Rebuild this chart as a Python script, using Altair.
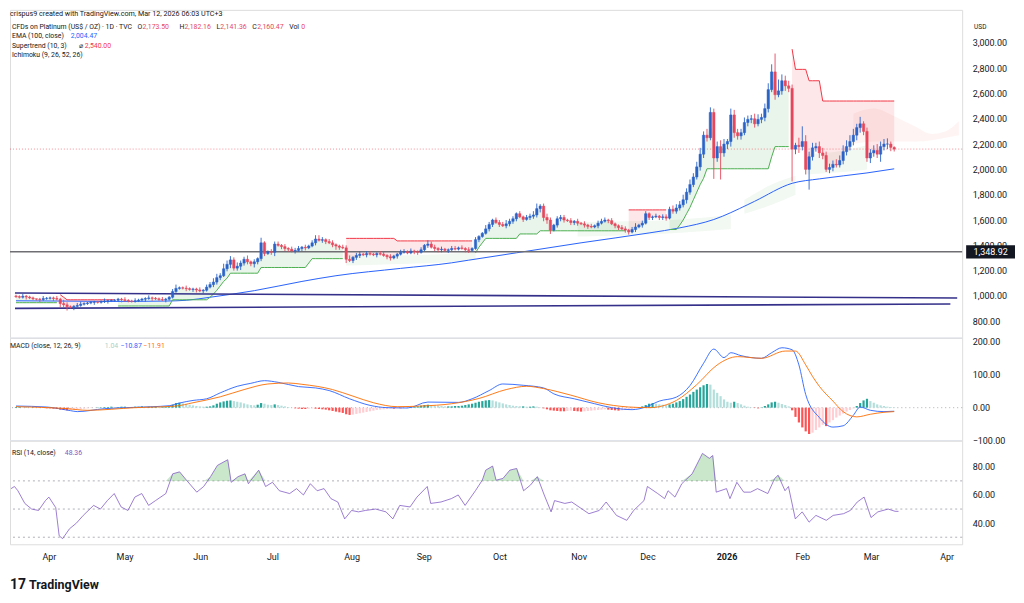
import altair as alt
import pandas as pd

FONT = "Roboto"
INK = "#131722"
BULL = "#2b63c8"
BEAR = "#e5485d"
ST_UP = "#4caf50"
ST_DN = "#f23645"
BLUE = "#2962ff"
ORANGE = "#ff6d00"
PURPLE = "#7e57c2"
NAVY = "#35318a"
GREY = "#787b86"

W = 955
H_PRICE, H_MACD, H_RSI = 329, 103, 104
X_DOMAIN = [-0.3, 276.5]
P_DOMAIN = [669, 3260]
M_DOMAIN = [-100, 212]
R_DOMAIN = [25, 98.6]

# ------------------------------------------------------------------ data
calendar = pd.bdate_range("2025-03-17", "2026-04-10")

# daily closes (one per session, Mar 17 2025 -> Mar 12 2026)
closes = [
    995, 990, 998, 992, 985,
    978, 975, 972, 980, 982,
    985, 980, 975, 940, 930,
    915, 908, 918, 925, 935,
    940, 945, 950, 952, 950,
    955, 960, 962, 965, 966,
    975, 970, 965, 960, 958,
    962, 968, 975, 980, 985,
    982, 978, 972, 970, 975,
    990, 1035, 1060, 1065, 1062,
    1058, 1052, 1055, 1048, 1040,
    1045, 1070, 1090, 1110, 1145,
    1160, 1215, 1250, 1285, 1220,
    1235, 1260, 1290, 1270, 1255,
    1270, 1295, 1420, 1335, 1350,
    1345, 1410, 1400, 1390, 1375,
    1370, 1355, 1360, 1375, 1385,
    1380, 1395, 1420, 1450, 1440,
    1445, 1430, 1420, 1405, 1395,
    1385, 1380, 1290, 1280, 1305,
    1320, 1330, 1325, 1335, 1330,
    1325, 1335, 1330, 1320, 1310,
    1300, 1315, 1330, 1345, 1350,
    1340, 1355, 1350, 1345, 1365,
    1400, 1410, 1385, 1375, 1365,
    1370, 1360, 1365, 1375, 1370,
    1380, 1375, 1365, 1360, 1375,
    1445, 1470, 1495, 1530, 1565,
    1600, 1580, 1565, 1555, 1570,
    1590, 1610, 1650, 1625, 1605,
    1620, 1630, 1640, 1690, 1710,
    1620, 1600, 1520, 1560, 1610,
    1620, 1600, 1595, 1580, 1590,
    1575, 1570, 1560, 1550, 1545,
    1555, 1575, 1590, 1600, 1595,
    1570, 1555, 1540, 1530, 1520,
    1505, 1525, 1545, 1560, 1575,
    1650, 1620, 1625, 1630, 1620,
    1625, 1615, 1685, 1670, 1695,
    1720, 1760, 1820, 1880, 1940,
    2020, 2120, 2270, 2250, 2450,
    2090, 2180, 2130, 2200, 2220,
    2430, 2290, 2265, 2290, 2370,
    2395, 2400, 2360, 2395, 2410,
    2480, 2630, 2770, 2590, 2620,
    2700, 2660, 2640, 2160, 2190,
    2180, 2220, 2000, 2100, 2170,
    2180, 2130, 2110, 2000, 2015,
    2040, 2035, 2070, 2140, 2180,
    2220, 2270, 2330, 2360, 2300,
    2090, 2130, 2150, 2120, 2180,
    2200, 2200, 2173.50, 2160.47,
]
first_open = 1000

# wick lengths beyond the body, in 10 USD steps, one digit per session
upper_wick = ("11211 10121 11213 21122 11111 12111 11211 21112 11121 12311 21112 "
              "12233 24332 32231 21431 22212 12221 21233 21221 12231 22122 "
              "11221 21122 12112 13221 21122 12121 21132 12223 22121 22342 "
              "23212 22121 21212 12221 21122 12312 21121 22233 34343 45354 "
              "34542 54334 33443 45689 54432 63544 34433 34455 55342 33454 4423").replace(" ", "")
lower_wick = ("11121 11211 12132 32211 11121 11211 12111 11121 21112 11111 21221 "
              "21122 21232 23222 32221 23122 21212 21121 22123 21342 22121 "
              "12112 21211 11221 12122 21211 11221 12112 21212 22212 12223 "
              "33212 22122 21221 12112 12212 21212 12212 22122 22322 23332 "
              "43334 44332 33323 33242 34334 53433 34323 32233 33443 34334 3432").replace(" ", "")
# sessions with a notable high / low
wick_fix = {16: (None, 903), 73: (1432, None), 98: (None, 1268), 154: (1725, None),
            157: (None, 1490), 205: (None, 1925), 207: (None, 1920), 223: (2915, None),
            228: (None, 1905), 231: (2340, None), 233: (None, 1840), 248: (2415, None),
            254: (None, 2060), 256: (2245, None), 258: (2182.16, 2141.36)}

# Supertrend (10, 3): (first session, last session, level, direction)
st_segments = [
    (0, 12, 947, "up"),
    (13, 13, 1010, "down"), (14, 14, 990, "down"), (15, 29, 970, "down"),
    (30, 45, 921, "up"), (46, 56, 970, "up"), (57, 57, 990, "up"), (58, 58, 1015, "up"),
    (59, 59, 1045, "up"), (60, 60, 1080, "up"), (61, 61, 1115, "up"), (62, 62, 1140, "up"),
    (63, 71, 1180, "up"), (72, 85, 1225, "up"), (86, 86, 1260, "up"), (87, 96, 1295, "up"),
    (97, 111, 1455, "down"), (112, 134, 1435, "down"),
    (135, 135, 1340, "up"), (136, 136, 1385, "up"), (137, 137, 1420, "up"),
    (138, 147, 1455, "up"), (148, 153, 1490, "up"), (154, 179, 1515, "up"),
    (180, 191, 1680, "down"),
    (192, 194, 1525, "up"), (195, 195, 1560, "up"), (196, 196, 1600, "up"), (197, 197, 1650, "up"),
    (198, 198, 1700, "up"), (199, 199, 1760, "up"), (200, 200, 1820, "up"), (201, 201, 1880, "up"),
    (202, 202, 1930, "up"), (203, 221, 2005, "up"), (222, 222, 2100, "up"), (223, 227, 2180, "up"),
    (228, 228, 2950, "down"), (229, 232, 2790, "down"), (233, 236, 2700, "down"), (237, 258, 2540, "down"),
]

# EMA (100, close)
ema_bar = [0, 14, 28, 44, 50, 57, 70, 84, 94, 113, 128, 133, 147, 166, 186, 195, 205, 215, 217, 228, 236, 250, 258]
ema_val = [962, 960, 957, 960, 966, 990, 1042, 1115, 1160, 1218, 1262, 1283, 1341, 1420, 1498, 1538,
           1604, 1722, 1748, 1890, 1925, 1972, 2004.47]

# Ichimoku cloud (span A / span B), read from the shading
cloud_run = ["c1"] * 4 + ["c2"] * 4 + ["c3"] * 3 + ["c4"] * 3 + ["c5"] * 7
cloud_bar = [97, 110, 125, 135, 165, 180, 195, 210, 214, 222, 229, 232, 241, 250,
             246, 252, 258, 264, 269, 273, 277]
cloud_a = [1330, 1320, 1330, 1345, 1585, 1590, 1605, 1640, 1760, 1880, 1950, 2120, 2140, 2190,
           2440, 2480, 2420, 2340, 2280, 2300, 2380]
cloud_b = [1240, 1250, 1265, 1285, 1470, 1480, 1500, 1530, 1650, 1720, 1800, 1960, 1975, 2000,
           2200, 2220, 2220, 2220, 2230, 2250, 2270]
cloud_dir = ["up"] * 14 + ["down"] * 7

# hand-drawn lines
trend_name = ["upper", "upper", "lower", "lower"]
trend_bar = [-0.3, 276.5, -0.3, 274.5]
trend_val = [1024, 984, 902, 937]
level_price = 1348.92

# MACD (12, 26, 9)
macd_bar = [0, 9, 16, 18, 26, 35, 45, 48, 52, 56, 60, 65, 69, 73, 77, 83, 88, 92, 98, 104,
            109, 115, 121, 130, 134, 139, 143, 149, 155, 158, 164, 170, 175, 181, 185, 189, 194, 198, 202, 205,
            208, 210, 213, 219, 222, 225, 228, 230, 232, 236, 240, 243, 246, 248, 251, 255, 258]
macd_val = [5, 2, -9, -12, -3, 1, 6, 14, 22, 27, 45, 65, 74, 82, 77, 64, 60, 52, 27, 7,
            0, -1, 17, 16, 27, 52, 72, 68, 60, 42, 27, 12, 0, -6, 2, 20, 32, 67, 135, 178,
            152, 167, 158, 150, 167, 182, 176, 130, 40, -30, -59, -55, -23, 2, -8, -12, -10.87]
sig_bar = [0, 15, 21, 35, 47, 52, 60, 67, 74, 80, 84, 93, 99, 105, 112, 119, 128, 136, 144, 150,
           155, 163, 171, 180, 186, 194, 200, 206, 212, 219, 226, 229, 232, 234, 236, 240, 243, 247, 251, 255, 258]
sig_val = [3, -3, -8, 0, 5, 15, 33, 55, 72, 75, 71, 55, 35, 15, 3, 5, 12, 28, 55, 65,
           58, 38, 15, 2, 0, 22, 70, 130, 155, 150, 172, 172, 130, 95, 65, 20, -12, -28, -20, -14, -11.91]
hist = [
    2, 2, 1, 1, 0, 1, 0, -1, -1, -2,
    -2, -3, -4, -6, -7, -8, -7, -6, -5, -4,
    -3, -2, -1, 0, 1, 1, 2, 2, 3, 2,
    2, 3, 3, 2, 2, 3, 3, 4, 3, 3,
    3, 3, 2, 2, 3, 4, 9, 14, 15, 13,
    11, 9, 7, 5, 4, 3, 3, 4, 7, 12,
    16, 19, 21, 22, 20, 18, 16, 13, 10, 8,
    7, 9, 14, 12, 9, 8, 10, 8, 6, 4,
    2, 0, -2, -3, -4, -4, -3, -2, -3, -4,
    -5, -6, -8, -10, -12, -14, -16, -20, -22, -21,
    -19, -17, -15, -13, -11, -9, -7, -6, -5, -4,
    -3, -3, -2, -2, -1, 0, 1, 2, 4, 6,
    8, 9, 8, 7, 6, 5, 4, 4, 4, 5,
    5, 6, 8, 10, 12, 15, 18, 20, 22, 23,
    22, 19, 16, 13, 10, 8, 6, 5, 4, 4,
    3, 3, 4, 3, 1, -2, -5, -8, -9, -10,
    -11, -11, -10, -9, -10, -11, -12, -11, -10, -9,
    -8, -7, -6, -5, -6, -7, -8, -9, -8, -7,
    -6, -4, -2, 1, 4, 8, 12, 14, 12, 10,
    9, 8, 10, 12, 16, 20, 26, 33, 40, 48,
    55, 62, 68, 72, 70, 55, 45, 35, 25, 18,
    15, 18, 14, 10, 6, 3, 1, -1, -2, 1,
    5, 10, 16, 18, 15, 11, 8, 4, -8, -28,
    -45, -60, -72, -80, -76, -68, -60, -52, -56, -45,
    -38, -30, -24, -18, -12, -7, -2, 5, 14, 22,
    27, 20, 15, 10, 7, 5, 3, 2, 1.04,
]

# RSI (14, close)
rsi_bar = [0, 1, 2, 4, 6, 8, 10, 11, 13, 14, 15, 17, 19, 21, 24, 26, 28, 30, 32, 34, 36, 38, 40, 42, 45,
           47, 49, 51, 54, 56, 58, 60, 63, 64, 66, 68, 69, 72, 74, 76, 78, 81, 83, 85, 87, 89, 91, 93, 95,
           97, 99, 101, 103, 106, 109, 111, 113, 116, 118, 121, 122, 125, 128, 130, 132, 135, 137, 138, 140,
           141, 143, 145, 147, 149, 151, 153, 155, 157, 158, 161, 163, 166, 168, 171, 173, 176, 179, 181, 184,
           185, 188, 190, 191, 193, 195, 198, 201, 203, 204, 205, 208, 209, 211, 213, 215, 217, 220, 222, 223,
           225, 226, 228, 230, 232, 234, 237, 239, 242, 244, 246, 248, 250, 252, 255, 257, 258]
rsi_val = [64.5, 66, 63, 54, 50, 49, 56, 58.5, 51, 31, 29, 36, 40, 45.5, 52.6, 50, 56, 61, 51.5, 49, 58.5,
           61, 52.6, 56, 61, 75, 76.4, 70.5, 62, 66, 73, 81, 85, 69, 73, 75, 68, 77.6, 66, 69, 63, 61, 64.5,
           60, 68, 63, 64.5, 57.4, 55, 43, 49, 48, 49, 50, 48, 43, 52.6, 51.5, 58.5, 66, 54, 55, 57.4, 60,
           52.6, 63, 70.5, 77.6, 80.5, 70.5, 71.7, 77.6, 78.8, 63, 67, 73, 60, 48, 56, 54, 55, 50, 46.7, 49,
           55, 45.5, 42, 49, 56, 66, 61, 57.4, 63, 58.5, 68, 75, 89.5, 86, 88, 62, 64.5, 57.4, 69, 62, 62,
           64.5, 61, 71.7, 74, 63, 66, 43, 48, 40.7, 45.5, 42, 45.5, 46.7, 49, 55, 58.5, 44, 48, 50, 48.4, 48.36]
rsi_levels = [70, 50, 30]

# ------------------------------------------------------------------ frames
N = len(closes)
opens = [first_open] + closes[:-1]
highs, lows = [], []
for i, (o, c) in enumerate(zip(opens, closes)):
    hi = max(o, c) + 10 * int(upper_wick[i])
    lo = min(o, c) - 10 * int(lower_wick[i])
    if i in wick_fix:
        fh, fl = wick_fix[i]
        hi = fh if fh is not None else hi
        lo = fl if fl is not None else lo
    highs.append(hi)
    lows.append(lo)

st = [None] * N
dirs = [None] * N
for a, b, lvl, d in st_segments:
    for k in range(a, b + 1):
        st[k] = lvl
        dirs[k] = d
runs, r = [], 0
for k in range(N):
    if k > 0 and dirs[k] != dirs[k - 1]:
        r += 1
    runs.append(r)

hcol, prev = [], 0
for h in hist:
    if h >= 0:
        hcol.append("g_up" if h >= prev else "g_dn")
    else:
        hcol.append("r_dn" if h <= prev else "r_up")
    prev = h

bars = pd.DataFrame(dict(i=list(range(N)), open=opens, close=closes, high=highs, low=lows,
                         mid=[(o + c) / 2 for o, c in zip(opens, closes)], st=st, dir=dirs, run=runs,
                         hist=hist, hc=hcol))
ema_df = pd.DataFrame(dict(i=ema_bar, v=ema_val))
cloud_df = pd.DataFrame(dict(i=cloud_bar, a=cloud_a, b=cloud_b, run=cloud_run, dir=cloud_dir))
trend_df = pd.DataFrame(dict(i=trend_bar, v=trend_val, line=trend_name))
level_df = pd.DataFrame(dict(v=[level_price], top=[level_price + 52], bot=[level_price - 52]))
last_df = pd.DataFrame(dict(v=[closes[-1]]))
macd_df = pd.DataFrame(dict(i=macd_bar, v=macd_val))
sig_df = pd.DataFrame(dict(i=sig_bar, v=sig_val))
rsi_df = pd.DataFrame(dict(i=rsi_bar, v=rsi_val))
lvl_df = pd.DataFrame(dict(v=rsi_levels))
zero_df = pd.DataFrame(dict(v=[0]))
one = pd.DataFrame(dict(k=[0]))

# month ticks on the session axis
ticks, names = [], []
for m in pd.period_range("2025-04", "2026-04", freq="M"):
    first = calendar[calendar.to_period("M") == m][0]
    ticks.append(int(calendar.get_loc(first)))
    names.append("2026" if m.month == 1 else first.strftime("%b"))
label_expr = " : ".join(f"datum.value == {t} ? '{n}'" for t, n in zip(ticks, names)) + " : ''"
year_tick = ticks[names.index("2026")]

# ------------------------------------------------------------------ helpers
xs = alt.Scale(domain=X_DOMAIN, nice=False, zero=False)


def X(axis=None):
    return alt.X("i:Q", scale=xs, axis=axis)


def yaxis(values, fmt=",.2f"):
    return alt.Axis(orient="right", values=values, format=fmt, labelAlign="left", labelPadding=10,
                    ticks=False, domain=False, grid=False, title=None, labelFontSize=9,
                    labelColor=INK, labelFont=FONT)


P_AXIS = yaxis(list(range(800, 3001, 200)))
M_AXIS = yaxis([-100, 0, 100, 200])
R_AXIS = yaxis([40, 60, 80])


def PY(f):
    return alt.Y(f"{f}:Q", scale=alt.Scale(domain=P_DOMAIN, nice=False, zero=False), axis=P_AXIS)


def MY(f):
    return alt.Y(f"{f}:Q", scale=alt.Scale(domain=M_DOMAIN, nice=False, zero=False), axis=M_AXIS)


def RY(f):
    return alt.Y(f"{f}:Q", scale=alt.Scale(domain=R_DOMAIN, nice=False, zero=False), axis=R_AXIS)


def label(text, x, y, color=INK, size=6.9, weight="normal"):
    return alt.Chart(one).mark_text(text=text, align="left", baseline="middle", fontSize=size,
                                    font=FONT, color=color, fontWeight=weight).encode(
        x=alt.value(x), y=alt.value(y))


def separator():
    return alt.Chart(one).mark_rule(color="#e0e3eb", strokeWidth=1).encode(
        y=alt.value(0), x=alt.value(0), x2=alt.value(W))


candle_color = alt.condition("datum.close >= datum.open", alt.value(BULL), alt.value(BEAR))
base = alt.Chart(bars)

# ------------------------------------------------------------------ price pane
price_layers = [
    alt.Chart(cloud_df).transform_filter("datum.dir == 'up'").mark_area(
        color="#43a047", opacity=0.07, interpolate="monotone").encode(X(), PY("a"), alt.Y2("b:Q"), detail="run:N"),
    alt.Chart(cloud_df).transform_filter("datum.dir == 'down'").mark_area(
        color="#f44336", opacity=0.06, interpolate="monotone").encode(X(), PY("a"), alt.Y2("b:Q"), detail="run:N"),
    base.transform_filter("datum.dir == 'up'").mark_area(color=ST_UP, opacity=0.12).encode(
        X(), PY("st"), alt.Y2("mid:Q"), detail="run:N"),
    base.transform_filter("datum.dir == 'down'").mark_area(color=ST_DN, opacity=0.12).encode(
        X(), PY("st"), alt.Y2("mid:Q"), detail="run:N"),
    alt.Chart(ema_df).mark_line(color=BLUE, strokeWidth=1, interpolate="monotone").encode(X(), PY("v")),
    base.transform_filter("datum.dir == 'up'").mark_line(color=ST_UP, strokeWidth=1).encode(
        X(), PY("st"), detail="run:N"),
    base.transform_filter("datum.dir == 'down'").mark_line(color=ST_DN, strokeWidth=1).encode(
        X(), PY("st"), detail="run:N"),
    alt.Chart(trend_df).mark_line(color=NAVY, strokeWidth=1.6).encode(X(), PY("v"), detail="line:N"),
    alt.Chart(level_df).mark_rule(color="#6e6e73", strokeWidth=1.5).encode(y=PY("v")),
    alt.Chart(last_df).mark_rule(color=ST_DN, strokeDash=[1, 2], opacity=0.7, strokeWidth=0.8).encode(y=PY("v")),
    base.mark_rule(strokeWidth=0.9).encode(X(), PY("low"), alt.Y2("high:Q"), color=candle_color),
    base.mark_bar(width=2.4, strokeWidth=0.5).encode(X(), PY("open"), alt.Y2("close:Q"),
                                                      color=candle_color, stroke=candle_color),
    alt.Chart(level_df).mark_rect(color="#131722").encode(
        x=alt.value(W + 4), x2=alt.value(W + 53), y=PY("top"), y2="bot:Q"),
    alt.Chart(level_df).mark_text(color="white", fontSize=9, font=FONT, align="center",
                                  baseline="middle").encode(
        x=alt.value(W + 28.5), y=PY("v"), text=alt.Text("v:Q", format=",.2f")),
    label("crispus9 created with TradingView.com, Mar 12, 2026 06:03 UTC+3", 0, 4, INK, 7.2),
    label("CFDs on Platinum (US$ / OZ) \u00b7 1D \u00b7 TVC", 2, 17),
    label("O", 128, 17), label("2,173.50", 133, 17, BEAR),
    label("H", 170, 17), label("2,182.16", 175, 17, BEAR),
    label("L", 207, 17), label("2,141.36", 211, 17, BEAR),
    label("C", 243, 17), label("2,160.47", 248, 17, BEAR),
    label("Vol", 280, 17), label("0", 292, 17, BEAR),
    label("EMA (100, close)", 2, 26), label("2,004.47", 61, 26, BLUE),
    label("Supertrend (10, 3)", 2, 36), label("\u2300", 69, 36), label("2,540.00", 75, 36, ST_DN),
    label("Ichimoku (9, 26, 52, 26)", 2, 45),
    label("USD", W + 12, 17, INK, 6.5),
]
price = alt.layer(*price_layers).properties(width=W, height=H_PRICE)

# ------------------------------------------------------------------ MACD pane
macd_layers = [
    separator(),
    alt.Chart(zero_df).mark_rule(color=GREY, strokeDash=[1, 3], opacity=0.6).encode(y=MY("v")),
    base.mark_bar(width=2.2).encode(
        X(), MY("hist"), alt.Y2(datum=0),
        color=alt.Color("hc:N", legend=None, scale=alt.Scale(
            domain=["g_up", "g_dn", "r_dn", "r_up"],
            range=["#26a69a", "#b2dfdb", "#ff5252", "#ffcdd2"]))),
    alt.Chart(macd_df).mark_line(color=BLUE, strokeWidth=0.9, interpolate="monotone").encode(X(), MY("v")),
    alt.Chart(sig_df).mark_line(color=ORANGE, strokeWidth=0.9, interpolate="monotone").encode(X(), MY("v")),
    label("MACD (close, 12, 26, 9)", 0, 8),
    label("1.04", 95, 8, "#9fd3cc"),
    label("\u221210.87", 111, 8, BLUE),
    label("\u221211.91", 134, 8, ORANGE),
]
macd = alt.layer(*macd_layers).properties(width=W, height=H_MACD)

# ------------------------------------------------------------------ RSI pane
x_axis = alt.Axis(values=ticks, labelExpr=label_expr, ticks=False, domain=False, grid=False,
                  labelPadding=8, title=None, labelOverlap=False, labelFontSize=9, labelColor=INK,
                  labelFont=FONT,
                  labelFontWeight={"condition": {"test": f"datum.value == {year_tick}", "value": "bold"},
                                   "value": "normal"})
rsi_layers = [
    separator(),
    alt.Chart(lvl_df).mark_rule(color=GREY, strokeDash=[2, 3], opacity=0.6).encode(y=RY("v")),
    alt.Chart(rsi_df).transform_calculate(ob="max(datum.v, 70)").mark_area(
        color="#66bb6a", opacity=0.35).encode(X(x_axis), RY("ob"), alt.Y2(datum=70)),
    alt.Chart(rsi_df).mark_line(color=PURPLE, strokeWidth=0.9, opacity=0.85).encode(X(x_axis), RY("v")),
    label("RSI (14, close)", 2, 12),
    label("48.36", 55, 12, PURPLE),
    label("17", 0, 145, INK, 14, "bold"),
    label("TradingView", 19, 145, INK, 12.5, "bold"),
]
rsi = alt.layer(*rsi_layers).properties(width=W, height=H_RSI)

chart = alt.vconcat(price, macd, rsi, spacing=0, bounds="flush").resolve_scale(
    x="independent", y="independent", color="independent"
).properties(padding=0).configure_view(stroke=None).configure(font=FONT)

chart.save("out.html", embed_options={"renderer": "svg", "actions": False})
